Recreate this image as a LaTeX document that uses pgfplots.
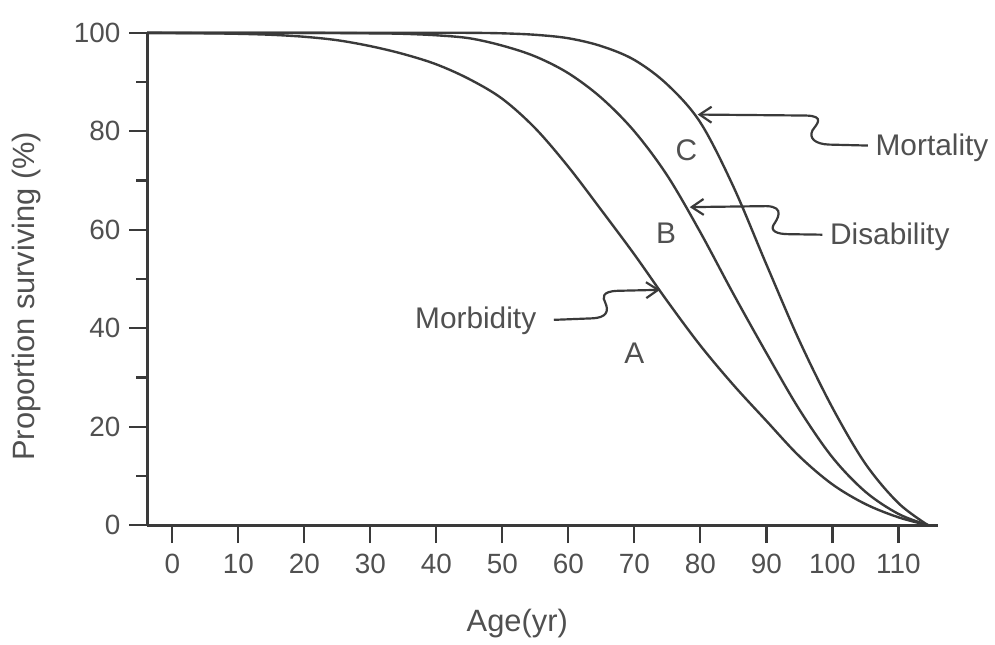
\documentclass[border=0pt]{standalone}
\usepackage{fontspec}
\setmainfont{Liberation Sans}
\usepackage{pgfplots}
\pgfplotsset{compat=1.18}
\usetikzlibrary{arrows.meta}
\definecolor{ink}{HTML}{3A3A3A}
\definecolor{txt}{HTML}{505050}
\tikzset{curve/.style={ink, line width=1.2pt, smooth, tension=0.55, mark=none}}

\begin{document}
\begin{tikzpicture}
\begin{axis}[
  scale only axis, width=397.5pt, height=247.5pt,
  xmin=-3.8, xmax=116, ymin=0, ymax=100,
  axis lines=left, axis line style={-, ink, line width=1.4pt},
  clip=false,
  xtick={0,10,...,110}, ytick={0,20,...,100}, minor ytick={10,30,...,90},
  tick align=outside, major tick length=9pt, minor tick length=5.5pt,
  every tick/.style={ink, line width=1.2pt},
  /pgf/number format/assume math mode=true,
  tick label style={font=\fontsize{14}{16}\selectfont, text=txt},
  yticklabel style={xshift=-1pt},
  xticklabel style={yshift=-2pt},
  xlabel={Age(yr)}, ylabel={Proportion surviving (\%)},
  every axis x label/.style={at={(axis description cs:0.468,-0.2)}, anchor=center,
    font=\fontsize{15.5}{18}\selectfont, text=txt},
  every axis y label/.style={at={(axis description cs:-0.153,0.465)}, rotate=90, anchor=center,
    font=\fontsize{15.5}{18}\selectfont, text=txt},
]
% A: morbidity
\addplot[curve] coordinates {
(-3.8,100)(5,99.9)(10,99.8)(15,99.6)(20,99.2)(25,98.5)(30,97.3)(35,95.7)
(40,93.6)(45,90.6)(50,86.6)(55,80.6)(60,72.8)(65,64)(70,55)(75,45.5)
(80,36.5)(85,28.5)(90,21.2)(95,14)(100,8.3)(105,4.3)(110,1.6)(114.5,0)};
% B: disability
\addplot[curve] coordinates {
(-3.8,100)(10,100)(20,100)(30,99.9)(35,99.8)(40,99.5)(45,98.9)(50,97.4)
(55,95.2)(60,91.8)(65,86.8)(70,80)(75,71)(80,59.5)(85,47)(90,35)(95,23.5)
(100,13.8)(105,6.8)(110,2.3)(114.5,0)};
% C: mortality
\addplot[curve] coordinates {
(-3.8,100)(10,100)(20,100)(30,100)(40,100)(45,100)(50,99.9)(55,99.6)
(60,98.9)(65,97.3)(70,94.5)(75,89.5)(80,81.8)(85,68.8)(90,53)(95,37.5)
(100,23.9)(105,12.5)(110,4.5)(114.5,0)};

% annotations
\begin{scope}[ink, line width=1.1pt, arrows={Straight Barb[length=6pt, width=8pt]-}]
\draw (axis cs:79.6,83.4) -- (axis cs:96,83.2)
  .. controls (axis cs:99,83.1) and (axis cs:97.6,81.4) .. (axis cs:97,80.2)
  .. controls (axis cs:96.4,78.6) and (axis cs:97.4,77.4) .. (axis cs:99.5,77.3)
  -- (axis cs:105.4,77.1);
\draw (axis cs:78.4,64.6) -- (axis cs:90,64.8)
  .. controls (axis cs:93,64.7) and (axis cs:91.6,62.0) .. (axis cs:91.1,61.0)
  .. controls (axis cs:90.6,59.8) and (axis cs:91.5,59.1) .. (axis cs:93.5,59.1)
  -- (axis cs:98.5,59.0);
\draw (axis cs:73.9,47.8) -- (axis cs:67.5,47.6)
  .. controls (axis cs:65,47.5) and (axis cs:65.2,46.2) .. (axis cs:65.6,45.2)
  .. controls (axis cs:66.2,43.4) and (axis cs:65.8,42.1) .. (axis cs:63.5,42.0)
  -- (axis cs:57.8,41.7);
\end{scope}
\begin{scope}[font=\fontsize{15}{18}\selectfont, text=txt]
\node[anchor=west] at (axis cs:105.5,76.6) {Mortality};
\node[anchor=west] at (axis cs:98.6,58.6) {Disability};
\node[anchor=east] at (axis cs:56.2,41.5) {Morbidity};
\node at (axis cs:77.9,76.1) {C};
\node at (axis cs:74.8,59.3) {B};
\node at (axis cs:70.0,35.0) {A};
\end{scope}
\end{axis}
\path (-74pt,-55.5pt) rectangle (423.5pt,264pt);
\end{tikzpicture}
\end{document}
